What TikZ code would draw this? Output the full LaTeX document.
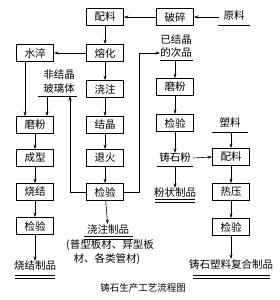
\documentclass[tikz,border=0pt]{standalone}
\usepackage{fontspec}
\setmainfont{Noto Sans CJK SC}
\usetikzlibrary{arrows.meta}
\begin{document}
\begin{tikzpicture}[x=1pt,y=-1pt,
  box/.style={draw,line width=0.9pt,minimum width=37pt,minimum height=17pt,inner sep=0pt,font=\fontsize{10.5}{12}\selectfont},
  lbl/.style={inner sep=0pt,font=\fontsize{10.5}{12}\selectfont},
  captxt/.style={inner sep=0pt,font=\fontsize{9.5}{11}\selectfont},
  arr/.style={line width=0.6pt,-{Stealth[length=4.5pt,width=3pt]}},
  ln/.style={line width=0.6pt},
  ulstyle/.style={line width=0.7pt}]
\useasboundingbox (0,0) rectangle (279,300);
% boxes
\node[box] (pl1) at (105,17) {配料};
\node[box] (ps) at (175,17) {破碎};
\node[box] (sc) at (35,53) {水淬};
\node[box] (rh) at (105,53) {熔化};
\node[box] (jz) at (105,89) {浇注};
\node[box] (mfR) at (175,87) {磨粉};
\node[box] (mfL) at (35,125) {磨粉};
\node[box] (jj) at (105,125) {结晶};
\node[box] (jyR) at (175,123) {检验};
\node[box] (cx) at (35,158) {成型};
\node[box] (th) at (105,158) {退火};
\node[box] (pl2) at (231,157) {配料};
\node[box] (sj) at (35,192) {烧结};
\node[box] (jyM) at (105,192) {检验};
\node[box] (ry) at (231,192) {热压};
\node[box] (jyL) at (35,226) {检验};
\node[box] (jyF) at (231,227) {检验};
% labels
\node[lbl] (yl) at (234,16) {原料};
\node[lbl] (yj1) at (176,40) {已结晶};
\node[lbl] (yj2) at (176,53) {的次品};
\node[lbl] (fj1) at (59,75) {非结晶};
\node[lbl] (fj2) at (59,88) {玻璃体};
\node[lbl] (sl) at (230,123) {塑料};
\node[lbl] (zsf) at (175,158) {铸石粉};
\node[lbl] (fz) at (175,193) {粉状制品};
\node[lbl] (jzp) at (108,229) {浇注制品};
\node[lbl] (pr1) at (110,245) {(普型板材、异型板};
\node[lbl] (pr2) at (107,259) {材、各类管材)};
\node[lbl] (sjp) at (35,266) {烧结制品};
\node[lbl] (fh) at (231,264) {铸石塑料复合制品};
\node[captxt] (title) at (143,288) {铸石生产工艺流程图};
% underline coordinates
\coordinate (ylA) at (218,25); \coordinate (ylB) at (250,25);
\coordinate (yjA) at (160,60); \coordinate (yjB) at (193,60);
\coordinate (fjA) at (38,96); \coordinate (fjB) at (77,96);
\coordinate (slA) at (212,132); \coordinate (slB) at (248,132);
\coordinate (zsA) at (157,166); \coordinate (zsB) at (193,166);
\draw[ulstyle] (ylA) -- (ylB);
\draw[ulstyle] (yjA) -- (yjB);
\draw[ulstyle] (fjA) -- (fjB);
\draw[ulstyle] (slA) -- (slB);
\draw[ulstyle] (zsA) -- (zsB);
% double underlines of products
\draw[ulstyle] (155,199) -- (195,199) (155,202) -- (195,202);
\draw[ulstyle] (84,236) -- (133,236) (84,239) -- (133,239);
\draw[ulstyle] (15,275) -- (55,275) (15,278) -- (55,278);
\draw[ulstyle] (193,275) -- (270,275) (193,278) -- (270,278);
% connectors
\draw[arr] (yl.west) ++(-4,1) -- (ps.east);
\draw[arr] (ps) -- (pl1);
\draw[arr] (pl1) -- (rh);
\draw[arr] (rh) -- (sc);
\draw[arr] (rh) -- (jz);
\draw[arr] (jz) -- (jj);
\draw[arr] (jj) -- (th);
\draw[arr] (th) -- (jyM);
\draw[arr] (jyM) -- (jzp);
\draw[arr] ([xshift=-10pt]sc.south) -- ([xshift=-10pt]mfL.north);
\draw[arr] (47,96) -- (mfL.north -| 47,0);
\draw[arr] (jyM.west) -| (70,96);
\draw[arr] (jyM.east) -| (139,53) -- (yj2.west);
\draw[arr] (175,60) -- (mfR);
\draw[arr] (mfR) -- (jyR);
\draw[arr] (jyR) -- (zsf);
\draw[arr] (175,166) -- (fz);
\draw[arr] (zsf.east) ++(2,0) -- (pl2.west);
\draw[arr] (231,132) -- (pl2);
\draw[arr] (pl2) -- (ry);
\draw[arr] (ry) -- (jyF);
\draw[arr] (jyF) -- (fh);
\draw[arr] (mfL) -- (cx);
\draw[arr] (cx) -- (sj);
\draw[arr] (sj) -- (jyL);
\draw[arr] (jyL) -- (sjp);
\end{tikzpicture}
\end{document}
